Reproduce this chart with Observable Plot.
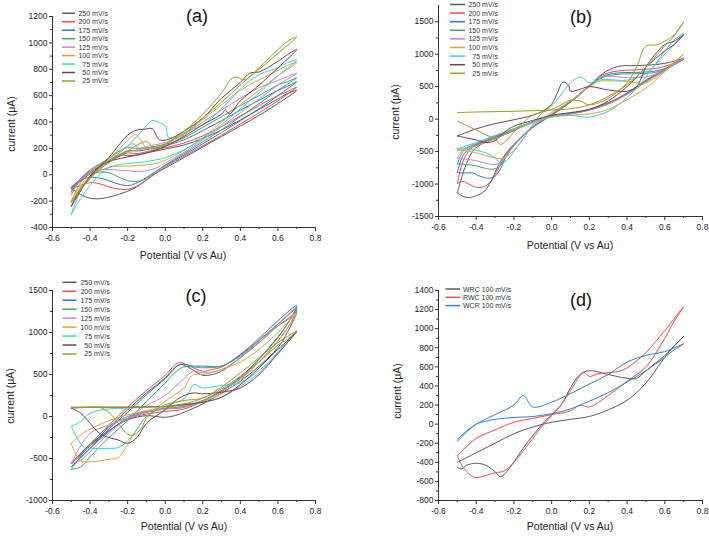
<!DOCTYPE html>
<html><head><meta charset="utf-8">
<script src="https://cdn.jsdelivr.net/npm/d3@7"></script>
<script src="https://cdn.jsdelivr.net/npm/@observablehq/plot@0.6"></script>
<style>
body{margin:0;background:#fff;font-family:"Liberation Sans",Arial,sans-serif;}
#fig{position:relative;width:709px;height:536px;overflow:hidden;background:#fff;}
.panel{position:absolute;}
#over{position:absolute;left:0;top:0;pointer-events:none;}
</style></head><body><div id="fig"></div>
<script>
// ---------- labels / categories ----------
const scanNames = ["250 mV/s","200 mV/s","175 mV/s","150 mV/s","125 mV/s","100 mV/s","75 mV/s","50 mV/s","25 mV/s"];
const scanColors = ["#5a5a5a","#f44b4b","#2f74d8","#3aa86a","#c884de","#e2a42e","#33d6d2","#7b3d4f","#9f9c22"];
const dNames = ["WRC 100 mV/s","RWC 100 mV/s","WCR 100 mV/s"];
const dColors = ["#5a5a5a","#f44b4b","#2f7fe0"];
const panelTitles = ["(a)","(b)","(c)","(d)"];
const xLabel = "Potential (V vs Au)";
const yLabel = "current (\u03bcA)";
const xTicks = [-0.6,-0.4,-0.2,0,0.2,0.4,0.6,0.8];
const xMinor = [-0.5,-0.3,-0.1,0.1,0.3,0.5,0.7];
const aYTicks = [-400,-200,0,200,400,600,800,1000,1200];
const aYMinor = [-300,-100,100,300,500,700,900,1100];
const bYTicks = [-1500,-1000,-500,0,500,1000,1500];
const bYMinor = [-1250,-750,-250,250,750,1250];
const cYTicks = [-1000,-500,0,500,1000,1500];
const cYMinor = [-750,-250,250,750,1250];
const dYTicks = [-800,-600,-400,-200,0,200,400,600,800,1000,1200,1400];
const dYMinor = [-700,-500,-300,-100,100,300,500,700,900,1100,1300];

// ---------- panel (a) ----------
const a250 = [[-0.5,-100],[-0.45,-150],[-0.4,-178],[-0.35,-182],[-0.3,-170],[-0.25,-150],[-0.2,-125],[-0.15,-90],[-0.1,-40],[-0.05,10],[0,50],[0.1,130],[0.2,210],[0.3,290],[0.4,370],[0.5,450],[0.6,540],[0.7,640],[0.65,615],[0.6,575],[0.5,495],[0.4,415],[0.3,340],[0.2,275],[0.1,225],[0,195],[-0.1,165],[-0.15,150],[-0.2,145],[-0.23,150],[-0.27,125],[-0.3,100],[-0.35,60],[-0.4,10],[-0.45,-50],[-0.5,-100]];
const a200 = [[-0.5,-110],[-0.45,-80],[-0.4,-60],[-0.35,-68],[-0.3,-92],[-0.25,-108],[-0.2,-110],[-0.15,-85],[-0.1,-40],[0,60],[0.1,140],[0.2,220],[0.3,300],[0.4,385],[0.5,470],[0.6,560],[0.7,665],[0.65,630],[0.6,600],[0.5,525],[0.4,445],[0.3,365],[0.2,295],[0.1,240],[0,205],[-0.1,175],[-0.15,160],[-0.2,165],[-0.25,135],[-0.3,100],[-0.35,65],[-0.4,20],[-0.45,-40],[-0.5,-110]];
const a175 = [[-0.5,-95],[-0.45,-40],[-0.4,-20],[-0.35,-25],[-0.3,-45],[-0.25,-70],[-0.2,-82],[-0.15,-62],[-0.1,-20],[0,70],[0.1,150],[0.2,235],[0.3,320],[0.4,410],[0.5,500],[0.6,600],[0.7,705],[0.65,670],[0.6,640],[0.5,565],[0.4,490],[0.3,410],[0.2,335],[0.1,265],[0,220],[-0.1,190],[-0.15,180],[-0.2,182],[-0.25,145],[-0.3,105],[-0.35,70],[-0.4,25],[-0.45,-30],[-0.5,-95]];
const a150 = [[-0.5,-130],[-0.45,-30],[-0.4,5],[-0.35,20],[-0.3,15],[-0.25,-15],[-0.2,-45],[-0.15,-50],[-0.1,-30],[0,75],[0.1,160],[0.2,250],[0.3,340],[0.4,440],[0.5,540],[0.6,640],[0.7,735],[0.65,705],[0.6,680],[0.5,600],[0.4,525],[0.3,440],[0.2,360],[0.1,280],[0,230],[-0.1,205],[-0.15,200],[-0.2,205],[-0.24,185],[-0.3,125],[-0.35,80],[-0.4,35],[-0.45,-30],[-0.5,-130]];
const a125 = [[-0.5,-150],[-0.45,-40],[-0.4,10],[-0.35,35],[-0.3,40],[-0.25,35],[-0.2,30],[-0.15,25],[-0.1,30],[-0.05,50],[0,90],[0.1,170],[0.2,265],[0.3,365],[0.4,470],[0.5,575],[0.6,680],[0.7,770],[0.65,745],[0.6,715],[0.5,660],[0.4,580],[0.3,490],[0.2,400],[0.1,310],[0,245],[-0.1,215],[-0.14,200],[-0.17,235],[-0.2,215],[-0.25,170],[-0.3,120],[-0.35,80],[-0.4,40],[-0.45,-30],[-0.5,-150]];
const a100 = [[-0.5,-200],[-0.45,-80],[-0.4,-10],[-0.35,30],[-0.3,55],[-0.25,65],[-0.2,65],[-0.15,70],[-0.1,75],[-0.05,85],[0,110],[0.1,185],[0.2,280],[0.3,400],[0.4,530],[0.5,640],[0.6,750],[0.7,850],[0.65,830],[0.6,790],[0.5,720],[0.4,640],[0.3,530],[0.2,420],[0.1,300],[0,215],[-0.05,195],[-0.1,205],[-0.13,265],[-0.16,305],[-0.2,260],[-0.25,190],[-0.3,120],[-0.35,70],[-0.4,20],[-0.45,-60],[-0.5,-200]];
const a75 = [[-0.5,-300],[-0.45,-180],[-0.4,-80],[-0.35,0],[-0.3,55],[-0.25,75],[-0.2,85],[-0.1,100],[0,130],[0.1,190],[0.2,275],[0.3,380],[0.4,500],[0.5,620],[0.6,750],[0.7,870],[0.65,850],[0.6,810],[0.5,760],[0.4,650],[0.3,500],[0.2,380],[0.1,320],[0.02,280],[0,370],[-0.03,395],[-0.07,410],[-0.1,370],[-0.15,290],[-0.2,220],[-0.3,100],[-0.4,-20],[-0.45,-120],[-0.5,-300]];
const a50 = [[-0.5,-240],[-0.45,-120],[-0.4,-10],[-0.35,60],[-0.3,100],[-0.25,120],[-0.2,135],[-0.1,165],[0,215],[0.1,290],[0.2,380],[0.3,460],[0.32,490],[0.34,460],[0.4,560],[0.5,680],[0.6,810],[0.7,950],[0.65,910],[0.6,860],[0.5,780],[0.45,770],[0.4,700],[0.3,580],[0.2,430],[0.1,330],[0.02,270],[-0.03,265],[-0.07,350],[-0.11,345],[-0.15,340],[-0.2,300],[-0.25,220],[-0.3,130],[-0.35,60],[-0.4,-20],[-0.45,-100],[-0.5,-240]];
const a25 = [[-0.5,-210],[-0.45,-100],[-0.4,-20],[-0.35,50],[-0.3,110],[-0.25,150],[-0.2,175],[-0.1,200],[0,235],[0.1,330],[0.2,460],[0.3,620],[0.35,725],[0.38,740],[0.42,720],[0.5,800],[0.6,920],[0.7,1045],[0.65,1010],[0.6,950],[0.5,810],[0.4,680],[0.3,550],[0.2,430],[0.1,310],[0,230],[-0.05,200],[-0.1,250],[-0.13,240],[-0.2,180],[-0.25,140],[-0.3,90],[-0.35,40],[-0.4,-30],[-0.45,-110],[-0.5,-210]];

// ---------- panel (b) ----------
const b250 = [[-0.5,-1130],[-0.47,-1190],[-0.44,-1210],[-0.4,-1180],[-0.36,-1120],[-0.32,-950],[-0.28,-700],[-0.24,-520],[-0.2,-390],[-0.1,-130],[0,60],[0.1,260],[0.2,510],[0.27,700],[0.35,810],[0.45,825],[0.55,840],[0.62,870],[0.7,935],[0.65,860],[0.6,770],[0.5,600],[0.4,400],[0.3,250],[0.2,150],[0.1,90],[0,40],[-0.1,-40],[-0.2,-180],[-0.3,-300],[-0.38,-400],[-0.42,-500],[-0.46,-750],[-0.5,-1130]];
const b200 = [[-0.5,-990],[-0.47,-960],[-0.44,-1000],[-0.4,-1050],[-0.36,-1040],[-0.32,-950],[-0.28,-750],[-0.24,-530],[-0.2,-390],[-0.1,-120],[0,70],[0.1,270],[0.2,520],[0.27,680],[0.35,740],[0.45,760],[0.55,780],[0.62,830],[0.7,930],[0.65,850],[0.6,760],[0.5,590],[0.4,400],[0.3,250],[0.2,150],[0.1,90],[0,40],[-0.1,-40],[-0.2,-170],[-0.3,-290],[-0.38,-380],[-0.43,-460],[-0.47,-650],[-0.5,-990]];
const b175 = [[-0.5,-820],[-0.47,-830],[-0.42,-830],[-0.38,-880],[-0.34,-910],[-0.3,-880],[-0.27,-760],[-0.24,-560],[-0.2,-400],[-0.1,-120],[0,70],[0.1,270],[0.2,510],[0.27,660],[0.35,710],[0.45,720],[0.55,740],[0.62,800],[0.7,920],[0.65,840],[0.6,750],[0.5,580],[0.4,390],[0.3,240],[0.2,140],[0.1,80],[0,40],[-0.1,-40],[-0.2,-160],[-0.3,-280],[-0.38,-370],[-0.43,-440],[-0.47,-560],[-0.5,-820]];
const b150 = [[-0.5,-690],[-0.45,-700],[-0.4,-720],[-0.35,-760],[-0.31,-770],[-0.28,-740],[-0.25,-620],[-0.22,-490],[-0.2,-410],[-0.1,-120],[0,70],[0.1,270],[0.2,500],[0.27,640],[0.35,690],[0.45,700],[0.55,720],[0.62,790],[0.7,930],[0.65,840],[0.6,750],[0.5,580],[0.4,390],[0.3,240],[0.2,140],[0.1,80],[0,40],[-0.1,-40],[-0.2,-150],[-0.3,-270],[-0.38,-360],[-0.43,-420],[-0.47,-500],[-0.5,-690]];
const b125 = [[-0.5,-600],[-0.45,-620],[-0.4,-640],[-0.35,-680],[-0.31,-700],[-0.28,-680],[-0.25,-600],[-0.22,-480],[-0.2,-400],[-0.1,-110],[0,80],[0.1,280],[0.2,520],[0.25,640],[0.3,660],[0.4,640],[0.5,650],[0.6,760],[0.7,940],[0.65,840],[0.6,750],[0.5,570],[0.4,380],[0.3,230],[0.2,140],[0.1,80],[0,40],[-0.1,-40],[-0.2,-150],[-0.3,-260],[-0.38,-350],[-0.43,-410],[-0.47,-470],[-0.5,-600]];
const b100 = [[-0.5,-480],[-0.45,-490],[-0.4,-520],[-0.35,-560],[-0.3,-600],[-0.27,-610],[-0.24,-580],[-0.2,-480],[-0.15,-300],[-0.1,-100],[0,100],[0.1,280],[0.2,500],[0.25,580],[0.3,590],[0.4,580],[0.45,560],[0.5,560],[0.6,740],[0.7,1000],[0.65,880],[0.6,730],[0.5,480],[0.4,300],[0.3,150],[0.2,80],[0.1,60],[0,30],[-0.1,-60],[-0.2,-170],[-0.3,-300],[-0.4,-410],[-0.45,-450],[-0.5,-480]];
const b75 = [[-0.5,-460],[-0.45,-460],[-0.4,-480],[-0.35,-520],[-0.3,-600],[-0.27,-680],[-0.24,-640],[-0.2,-500],[-0.15,-300],[-0.1,-80],[-0.05,100],[0,200],[0.05,380],[0.1,560],[0.15,650],[0.18,600],[0.2,560],[0.25,600],[0.3,610],[0.4,600],[0.5,700],[0.6,1000],[0.7,1320],[0.65,1220],[0.6,1050],[0.5,650],[0.4,330],[0.3,120],[0.2,30],[0.15,40],[0.1,60],[0,40],[-0.1,-50],[-0.2,-150],[-0.3,-250],[-0.4,-360],[-0.45,-410],[-0.5,-460]];
const b50 = [[-0.5,-260],[-0.4,-150],[-0.3,-70],[-0.2,-10],[-0.1,60],[-0.05,120],[0,230],[0.03,400],[0.06,570],[0.09,520],[0.1,430],[0.15,460],[0.2,500],[0.3,450],[0.4,430],[0.45,500],[0.5,800],[0.55,1000],[0.6,1150],[0.65,1200],[0.7,1300],[0.65,1150],[0.6,1050],[0.5,800],[0.4,500],[0.3,280],[0.2,150],[0.1,100],[0,60],[-0.1,-20],[-0.2,-110],[-0.25,-200],[-0.3,-330],[-0.35,-360],[-0.4,-320],[-0.45,-290],[-0.5,-260]];
const b25 = [[-0.5,-30],[-0.45,-100],[-0.4,-170],[-0.35,-240],[-0.3,-310],[-0.27,-390],[-0.24,-330],[-0.2,-200],[-0.15,-50],[-0.1,60],[0,150],[0.05,220],[0.1,290],[0.15,280],[0.2,220],[0.3,320],[0.4,560],[0.45,800],[0.5,1130],[0.55,1140],[0.6,1200],[0.65,1300],[0.7,1500],[0.65,1280],[0.6,1130],[0.5,800],[0.4,530],[0.3,350],[0.2,220],[0.1,160],[0,140],[-0.1,130],[-0.2,120],[-0.3,115],[-0.4,110],[-0.5,100]];

// ---------- panel (c) ----------
const c250 = [[-0.5,-560],[-0.45,-460],[-0.4,-350],[-0.3,-130],[-0.2,80],[-0.1,280],[0,460],[0.05,580],[0.08,620],[0.12,590],[0.2,490],[0.25,500],[0.3,540],[0.4,700],[0.5,880],[0.6,1080],[0.65,1150],[0.7,1250],[0.65,1000],[0.6,820],[0.5,600],[0.4,420],[0.3,280],[0.2,150],[0.1,50],[0.05,10],[0,-10],[-0.05,0],[-0.1,10],[-0.2,-40],[-0.3,-170],[-0.4,-330],[-0.5,-560]];
const c200 = [[-0.5,-560],[-0.4,-330],[-0.3,-100],[-0.2,110],[-0.1,310],[0,490],[0.07,640],[0.12,610],[0.2,540],[0.25,560],[0.3,590],[0.4,730],[0.5,910],[0.6,1100],[0.7,1280],[0.65,1050],[0.6,900],[0.5,650],[0.4,450],[0.3,300],[0.2,180],[0.1,90],[0,60],[-0.1,30],[-0.2,-30],[-0.3,-170],[-0.4,-350],[-0.5,-560]];
const c175 = [[-0.5,-600],[-0.4,-380],[-0.3,-150],[-0.2,50],[-0.1,260],[0,450],[0.08,620],[0.15,600],[0.2,600],[0.3,600],[0.4,740],[0.5,930],[0.6,1140],[0.7,1320],[0.65,1100],[0.6,950],[0.5,690],[0.4,470],[0.3,310],[0.2,190],[0.1,110],[0,90],[-0.1,50],[-0.2,-20],[-0.3,-180],[-0.4,-380],[-0.5,-600]];
const c150 = [[-0.5,-630],[-0.45,-600],[-0.4,-480],[-0.3,-250],[-0.2,-50],[-0.1,180],[0,400],[0.05,520],[0.1,590],[0.15,590],[0.2,580],[0.3,600],[0.4,720],[0.5,900],[0.6,1100],[0.7,1300],[0.65,1100],[0.6,940],[0.5,680],[0.4,460],[0.3,300],[0.2,190],[0.1,120],[0,100],[-0.1,60],[-0.2,0],[-0.3,-120],[-0.4,-330],[-0.5,-630]];
const c125 = [[-0.5,-560],[-0.45,-520],[-0.4,-420],[-0.3,-200],[-0.2,-20],[-0.1,130],[0,250],[0.05,350],[0.1,450],[0.15,540],[0.2,520],[0.3,560],[0.4,700],[0.5,880],[0.6,1080],[0.7,1230],[0.65,1050],[0.6,900],[0.5,650],[0.4,450],[0.3,300],[0.2,180],[0.1,110],[0,90],[-0.1,50],[-0.2,-20],[-0.3,-100],[-0.4,-200],[-0.45,-350],[-0.5,-560]];
const c100 = [[-0.5,-320],[-0.48,-430],[-0.45,-530],[-0.4,-540],[-0.3,-510],[-0.25,-490],[-0.2,-330],[-0.15,-150],[-0.1,0],[0,180],[0.05,260],[0.1,340],[0.13,450],[0.15,500],[0.2,500],[0.3,560],[0.4,650],[0.5,800],[0.6,1000],[0.7,1230],[0.65,1050],[0.6,900],[0.5,650],[0.4,430],[0.3,270],[0.2,180],[0.1,130],[0,110],[-0.1,70],[-0.2,20],[-0.3,-50],[-0.4,-150],[-0.45,-220],[-0.5,-320]];
const c75 = [[-0.5,-120],[-0.47,-250],[-0.43,-370],[-0.38,-380],[-0.3,-380],[-0.25,-370],[-0.2,-290],[-0.15,-150],[-0.1,0],[0,120],[0.1,210],[0.13,300],[0.15,380],[0.2,340],[0.3,370],[0.4,400],[0.5,550],[0.6,750],[0.7,1020],[0.65,900],[0.6,770],[0.5,520],[0.4,360],[0.3,230],[0.2,170],[0.1,150],[0,120],[-0.1,110],[-0.2,100],[-0.3,90],[-0.4,40],[-0.45,-60],[-0.5,-120]];
const c50 = [[-0.5,100],[-0.45,40],[-0.4,-80],[-0.35,-200],[-0.3,-250],[-0.25,-280],[-0.2,-320],[-0.15,-250],[-0.1,-80],[0,80],[0.05,180],[0.1,250],[0.15,280],[0.2,270],[0.3,290],[0.4,340],[0.5,500],[0.6,750],[0.7,1010],[0.65,900],[0.6,800],[0.5,580],[0.4,380],[0.3,230],[0.2,170],[0.1,140],[0,120],[-0.1,115],[-0.2,110],[-0.3,110],[-0.4,110],[-0.5,100]];
const c25 = [[-0.5,110],[-0.4,110],[-0.35,110],[-0.3,50],[-0.25,-80],[-0.2,-210],[-0.17,-220],[-0.13,-150],[-0.1,-20],[-0.05,80],[0,140],[0.1,190],[0.2,220],[0.3,330],[0.4,480],[0.5,650],[0.6,850],[0.65,920],[0.7,1020],[0.65,950],[0.6,880],[0.5,700],[0.4,520],[0.3,350],[0.2,220],[0.1,150],[0,120],[-0.1,115],[-0.2,112],[-0.3,112],[-0.4,112],[-0.5,110]];

// ---------- panel (d) ----------
const dWRC = [[-0.5,-450],[-0.48,-470],[-0.45,-430],[-0.4,-410],[-0.35,-430],[-0.3,-500],[-0.27,-550],[-0.22,-450],[-0.15,-250],[-0.05,0],[0.05,200],[0.1,380],[0.15,520],[0.2,560],[0.3,520],[0.4,480],[0.45,480],[0.5,560],[0.6,720],[0.7,920],[0.65,820],[0.6,700],[0.5,430],[0.4,250],[0.3,150],[0.2,80],[0.1,50],[0,20],[-0.1,-30],[-0.2,-100],[-0.3,-200],[-0.4,-300],[-0.5,-400]];
const dRWC = [[-0.5,-330],[-0.47,-450],[-0.42,-550],[-0.4,-560],[-0.3,-510],[-0.25,-490],[-0.2,-400],[-0.1,-150],[-0.05,-20],[0.05,200],[0.1,350],[0.17,540],[0.2,500],[0.25,530],[0.35,550],[0.4,590],[0.5,750],[0.6,980],[0.7,1230],[0.65,1080],[0.6,900],[0.5,600],[0.4,450],[0.3,300],[0.2,180],[0.15,200],[0.1,140],[0,100],[-0.1,60],[-0.2,20],[-0.3,-60],[-0.4,-150],[-0.5,-330]];
const dWCR = [[-0.5,-160],[-0.45,-70],[-0.4,0],[-0.3,100],[-0.2,200],[-0.15,300],[-0.1,180],[0,230],[0.1,320],[0.2,420],[0.3,520],[0.4,650],[0.5,720],[0.6,760],[0.7,840],[0.65,780],[0.6,700],[0.5,560],[0.4,440],[0.3,330],[0.2,240],[0.1,160],[0,110],[-0.1,80],[-0.2,70],[-0.3,50],[-0.35,30],[-0.4,0],[-0.5,-180]];

// ---------- build ----------
const fig = document.getElementById("fig");
const FONT = '"Liberation Sans", Arial, sans-serif';

function panel(cfg) {
  const rows = [];
  cfg.series.forEach((pts, k) => pts.forEach(([x, y], i) => rows.push({x, y, s: cfg.names[k], i})));
  const svg = Plot.plot({
    width: cfg.w, height: 268,
    marginLeft: cfg.ml, marginRight: cfg.mr, marginTop: cfg.mt, marginBottom: cfg.mb,
    x: {domain: [-0.6, 0.8], axis: null},
    y: {domain: cfg.yDomain, axis: null},
    color: {domain: cfg.names, range: cfg.colors},
    style: {fontFamily: FONT, fontSize: "8.5px", color: "#222", background: "white", overflow: "visible"},
    marks: [
      Plot.line(rows, {x: "x", y: "y", z: "s", stroke: "s", strokeWidth: 1, curve: "catmull-rom"}),
      Plot.ruleX([-0.6], {stroke: "#333", strokeWidth: 1}),
      Plot.ruleY([cfg.yDomain[0]], {stroke: "#333", strokeWidth: 1}),
      Plot.axisX(xTicks, {tickSize: 4, tickPadding: 3, tickFormat: d => d.toFixed(1), label: null, stroke: "#333"}),
      Plot.axisX(xMinor, {tickSize: 2, tickFormat: () => "", label: null, stroke: "#333"}),
      Plot.axisY(cfg.yTicks, {tickSize: 3, tickPadding: 2, tickFormat: d => String(d), label: null, stroke: "#333"}),
      Plot.axisY(cfg.yMinor, {tickSize: 2, tickFormat: () => "", label: null, stroke: "#333"})
    ]
  });
  const div = document.createElement("div");
  div.className = "panel";
  div.style.left = cfg.left + "px";
  div.style.top = cfg.top + "px";
  div.appendChild(svg);
  fig.appendChild(div);
}

panel({left: 0, top: 0, w: 355, ml: 52, mr: 40, mt: 16, mb: 41, yDomain: [-400, 1200], yTicks: aYTicks, yMinor: aYMinor,
  names: scanNames, colors: scanColors, series: [a250, a200, a175, a150, a125, a100, a75, a50, a25]});
panel({left: 355, top: 0, w: 354, ml: 83, mr: 7, mt: 5, mb: 52, yDomain: [-1500, 1750], yTicks: bYTicks, yMinor: bYMinor,
  names: scanNames, colors: scanColors, series: [b250, b200, b175, b150, b125, b100, b75, b50, b25]});
panel({left: 0, top: 268, w: 355, ml: 52, mr: 40, mt: 22, mb: 36, yDomain: [-1000, 1500], yTicks: cYTicks, yMinor: cYMinor,
  names: scanNames, colors: scanColors, series: [c250, c200, c175, c150, c125, c100, c75, c50, c25]});
panel({left: 355, top: 268, w: 354, ml: 83, mr: 7, mt: 22, mb: 36, yDomain: [-800, 1400], yTicks: dYTicks, yMinor: dYMinor,
  names: dNames, colors: dColors, series: [dWRC, dRWC, dWCR]});

// ---------- overlay: titles, axis labels, legends ----------
const NS = "http://www.w3.org/2000/svg";
const over = document.createElementNS(NS, "svg");
over.setAttribute("id", "over");
over.setAttribute("width", 709);
over.setAttribute("height", 536);
over.style.fontFamily = FONT;
fig.appendChild(over);
function txt(x, y, s, size, anchor, rot, fill) {
  const t = document.createElementNS(NS, "text");
  t.setAttribute("x", x); t.setAttribute("y", y);
  t.setAttribute("font-size", size);
  t.setAttribute("text-anchor", anchor || "middle");
  t.setAttribute("dominant-baseline", "central");
  t.setAttribute("fill", fill || "#222");
  if (rot) t.setAttribute("transform", `rotate(${rot} ${x} ${y})`);
  t.textContent = s;
  over.appendChild(t);
}
function ln(x1, y, x2, color) {
  const l = document.createElementNS(NS, "line");
  l.setAttribute("x1", x1); l.setAttribute("x2", x2);
  l.setAttribute("y1", y); l.setAttribute("y2", y);
  l.setAttribute("stroke", color); l.setAttribute("stroke-width", 1.5);
  over.appendChild(l);
}
const titlePos = [[197, 16], [581, 17], [196, 296], [581, 300]];
panelTitles.forEach((t, i) => txt(titlePos[i][0], titlePos[i][1], t, 18, "middle", 0, "#111"));
const xLabPos = [[183, 255], [570, 245], [184, 526], [570, 526]];
const yLabPos = [[11, 124], [395, 112], [10, 396], [397, 391]];
xLabPos.forEach(([x, y]) => txt(x, y, xLabel, 10.5));
yLabPos.forEach(([x, y]) => txt(x, y, yLabel, 10.5, "middle", -90));

function legend(names, colors, lx1, lx2, tx, anchor, y0, dy) {
  names.forEach((n, i) => {
    const y = y0 + i * dy;
    ln(lx1, y, lx2, colors[i]);
    txt(tx, y, n, 7, anchor, 0, "#333");
  });
}
legend(scanNames, scanColors, 62, 75, 108, "end", 13.3, 8.46);
legend(scanNames, scanColors, 450, 465, 498, "end", 4.5, 8.6);
legend(scanNames, scanColors, 62.5, 76.5, 110, "end", 282.3, 8.96);
legend(dNames, dColors, 445.5, 460, 463, "start", 289, 8.3);
</script></body></html>
